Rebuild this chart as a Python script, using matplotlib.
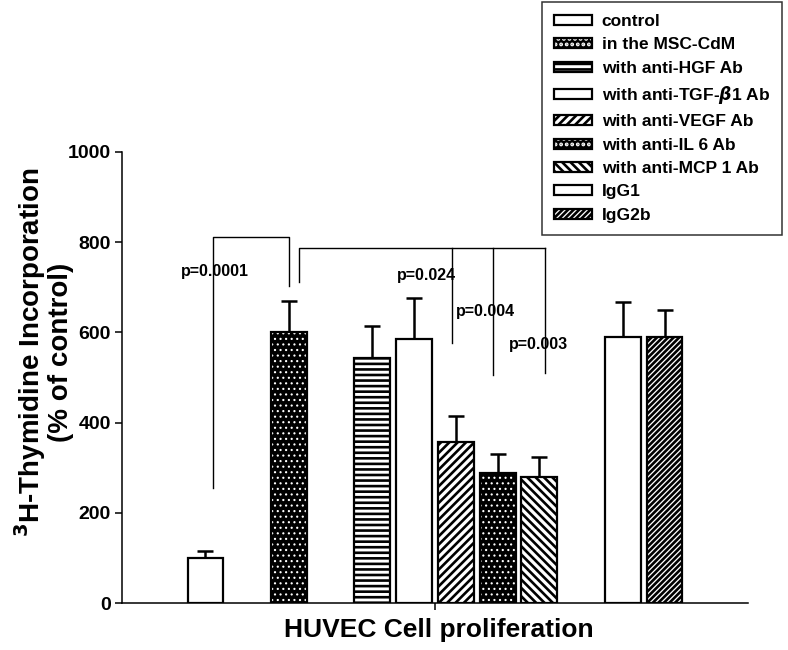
import matplotlib
matplotlib.use('Agg')
import matplotlib.pyplot as plt
from matplotlib.patches import Patch
from matplotlib.legend_handler import HandlerTuple

plt.rcParams['font.family'] = ['Liberation Sans', 'DejaVu Sans']
plt.rcParams['font.weight'] = 'bold'
plt.rcParams['hatch.linewidth'] = 1.9

# data
groups = ['control', 'in the MSC-CdM', 'with anti-HGF Ab', 'with anti-TGF-$\\beta$1 Ab',
          'with anti-VEGF Ab', 'with anti-IL 6 Ab', 'with anti-MCP 1 Ab', 'IgG1', 'IgG2b']
values = [100, 600, 543, 585, 357, 288, 279, 590, 590]
errors = [15, 70, 71, 91, 58, 42, 45, 77, 60]
p_labels = ['p=0.0001', 'p=0.024', 'p=0.004', 'p=0.003']

# styling per bar: (face colour, hatch colour, hatch, hatch linewidth)
styles = [
    ('white', 'black', '', 1.9),
    ('black', 'white', '...', 0.8),
    ('white', 'black', '---', 1.9),
    ('white', 'black', '', 1.9),
    ('white', 'black', '////', 1.9),
    ('black', 'white', '...', 0.8),
    ('white', 'black', '\\\\\\\\', 1.9),
    ('white', 'black', '', 1.9),
    ('white', 'black', '//////', 1.9),
]
positions = [0, 2, 4, 5, 6, 7, 8, 10, 11]
width = 0.86

fig = plt.figure(figsize=(7.88, 6.5), dpi=100)
ax = fig.add_axes([122 / 788, 47 / 650, 626 / 788, 451 / 650])


def hatched(patch, hlw):
    if hasattr(patch, 'set_hatch_linewidth'):
        patch.set_hatch_linewidth(hlw)
    return patch


handles = []
for x, v, (fc, hc, h, hlw) in zip(positions, values, styles):
    with plt.rc_context({'hatch.linewidth': hlw}):
        bars = ax.bar(x, v, width=width, color=fc, edgecolor=hc, hatch=h, linewidth=0, zorder=2)
        for b in bars:
            hatched(b, hlw)
        ax.bar(x, v, width=width, fill=False, edgecolor='black', linewidth=1.6, zorder=3)
        handles.append((hatched(Patch(facecolor=fc, edgecolor=hc, hatch=h, linewidth=0), hlw),
                        Patch(fill=False, edgecolor='black', linewidth=1.6)))

ax.errorbar(positions, values, yerr=[[0] * len(values), errors], fmt='none',
            ecolor='black', elinewidth=1.8, capsize=5.5, capthick=1.8, zorder=1)

# significance brackets
lk = dict(color='black', linewidth=1.0, zorder=1)
ax.plot([0.17, 0.17, 1.99, 1.99], [255, 811, 811, 703], **lk)
ax.plot([2.23, 2.23, 8.13], [712, 787, 787], **lk)
ax.plot([5.9, 5.9], [787, 576], **lk)
ax.plot([6.88, 6.88], [787, 505], **lk)
ax.plot([8.13, 8.13], [787, 510], **lk)

tk = dict(ha='center', va='center', fontsize=11.5, zorder=4)
ax.text(0.22, 734, p_labels[0], **tk)
ax.text(5.3, 727, p_labels[1], **tk)
ax.text(6.71, 647, p_labels[2], **tk)
ax.text(7.99, 574, p_labels[3], **tk)

ax.set_xlim(-2.0, 13.0)
ax.set_ylim(0, 1000)
ax.set_yticks(range(0, 1001, 200))
ax.set_xticks([5.5])
ax.set_xticklabels([''])
ax.tick_params(axis='y', direction='out', length=5, width=1.1, labelsize=14, pad=3)
ax.tick_params(axis='x', direction='out', length=5, width=1.1)
for s in ['top', 'right']:
    ax.spines[s].set_visible(False)
for s in ['left', 'bottom']:
    ax.spines[s].set_linewidth(1.1)

fig.text(43 / 788, 0.4585, '$^{3}$H-Thymidine Incorporation\n(% of control)',
         rotation=90, ha='center', va='center', fontsize=20, linespacing=1.0)
fig.text(439 / 788, 13 / 650, 'HUVEC Cell proliferation', ha='center', va='baseline',
         fontsize=19)

leg = fig.legend(handles, groups, handler_map={tuple: HandlerTuple(ndivide=1, pad=0)},
                 loc='upper right', bbox_to_anchor=(782 / 788, 648 / 650),
                 fontsize=12.5, frameon=True, fancybox=False, edgecolor='black',
                 handlelength=2.2, handleheight=0.5, handletextpad=0.55,
                 labelspacing=0.48, borderpad=0.7, borderaxespad=0)
leg.get_frame().set_linewidth(1.1)

fig.savefig('out.png', dpi=100)
